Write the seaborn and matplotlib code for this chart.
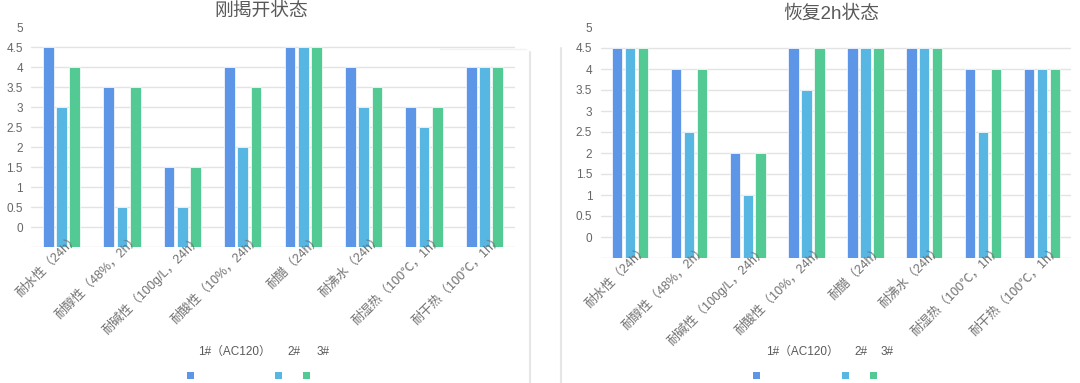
import numpy as np
import pandas as pd
import matplotlib
matplotlib.use("Agg")
import matplotlib.pyplot as plt
import matplotlib.transforms as mtrans
from matplotlib.lines import Line2D
from matplotlib.patches import Rectangle
import seaborn as sns

# ---------------- data ----------------
categories = ["耐水性（24h）", "耐醇性（48%，2h）", "耐碱性（100g/L，24h）", "耐酸性（10%，24h）",
              "耐醋（24h）", "耐沸水（24h）", "耐湿热（100℃，1h）", "耐干热（100℃，1h）"]
series = ["1#（AC120）", "2#", "3#"]
titles = ["刚揭开状态", "恢复2h状态"]

s1_open = [4.5, 3.5, 1.5, 4, 4.5, 4, 3, 4]
s2_open = [3, 0.5, 0.5, 2, 4.5, 3, 2.5, 4]
s3_open = [4, 3.5, 1.5, 3.5, 4.5, 3.5, 3, 4]

s1_2h = [4.5, 4, 2, 4.5, 4.5, 4.5, 4, 4]
s2_2h = [4.5, 2.5, 1, 3.5, 4.5, 4.5, 2.5, 4]
s3_2h = [4.5, 4, 2, 4.5, 4.5, 4.5, 4, 4]

y_ticks = [0, 0.5, 1, 1.5, 2, 2.5, 3, 3.5, 4, 4.5, 5]
BASE = -0.5  # axis floor used by the original chart

colors = ["#5D96E6", "#58B6E2", "#53CA94"]

# ---------------- style ----------------
sns.set_theme(style="white")
plt.rcParams["font.family"] = ["Liberation Sans", "Noto Sans CJK SC", "DejaVu Sans"]

W, H = 1080, 383
fig = plt.figure(figsize=(W / 100, H / 100), dpi=100)
fig.patch.set_facecolor("white")


def box(x0, y0, x1, y1):
    return [x0 / W, 1 - y1 / H, (x1 - x0) / W, (y1 - y0) / H]


panels = [
    dict(rect=box(31.3, 27, 514.7, 247), vals=[s1_open, s2_open, s3_open],
         title=titles[0], tx=261, ty=11,
         leg_text=[198, 287, 317], leg_sq=[187, 275, 303]),
    dict(rect=box(600.6, 27, 1071.4, 258), vals=[s1_2h, s2_2h, s3_2h],
         title=titles[1], tx=831, ty=14,
         leg_text=[766, 854, 881], leg_sq=[753, 842, 870]),
]

for p in panels:
    ax = fig.add_axes(p["rect"])
    rows = []
    for s, vals in zip(series, p["vals"]):
        for c, v in zip(categories, vals):
            rows.append({"cat": c, "series": s, "value": v, "height": v - BASE})
    df = pd.DataFrame(rows)
    sns.barplot(data=df, x="cat", y="height", hue="series", order=categories,
                hue_order=series, palette=colors, saturation=1, width=0.66, gap=0.2,
                bottom=BASE, edgecolor="white", linewidth=0.5,
                legend=False, ax=ax, errorbar=None)
    ax.set_xlim(-0.5, len(categories) - 0.5)
    ax.set_ylim(BASE, 5)
    ticks = [BASE] + y_ticks
    ax.set_yticks(ticks)
    ax.set_yticklabels([""] + [f"{t:g}" for t in y_ticks])
    ax.grid(False)
    for t in ticks[:-1]:
        ax.axhline(t, color="#dcdcdc" if t == BASE else "#e3e3e3",
                   linewidth=1.0, zorder=0)
    ax.set_axisbelow(False)
    for sp in ax.spines.values():
        sp.set_visible(False)
    ax.set_xlabel("")
    ax.set_ylabel("")
    ax.tick_params(axis="y", length=0, pad=6, labelsize=8.5, labelcolor="#666666")
    ax.tick_params(axis="x", length=0, pad=0, labelsize=9, labelcolor="#707070")
    ax.set_xticks(range(len(categories)))
    ax.set_xticklabels(categories, rotation=45, ha="right", va="top",
                       rotation_mode="anchor")
    off = mtrans.ScaledTranslation(0.12, 0.15, fig.dpi_scale_trans)
    for lab in ax.get_xticklabels():
        lab.set_transform(lab.get_transform() + off)

    fig.text(p["tx"] / W, 1 - p["ty"] / H, p["title"], ha="center", va="center",
             fontsize=13.5, color="#595959")

    for name, xt, xs, col in zip(series, p["leg_text"], p["leg_sq"], colors):
        fig.text(xt / W, 1 - 352 / H, name, ha="left", va="center",
                 fontsize=8.5, color="#595959")
        fig.add_artist(Rectangle((xs / W, 1 - 379 / H), 7 / W, 7 / H,
                                 transform=fig.transFigure, facecolor=col,
                                 edgecolor="none"))

# decorative card borders
fig.add_artist(Line2D([529.5 / W, 529.5 / W], [0, 1 - 52 / H], transform=fig.transFigure,
                      color="#e6e6e6", linewidth=1.5))
fig.add_artist(Line2D([440 / W, 526 / W], [1 - 48.5 / H, 1 - 48.5 / H], transform=fig.transFigure,
                      color="#f2f2f2", linewidth=1.0))
fig.add_artist(Line2D([560.5 / W, 560.5 / W], [0, 1 - 48 / H], transform=fig.transFigure,
                      color="#e6e6e6", linewidth=1.5))

fig.savefig("out.png", dpi=100, facecolor="white")
